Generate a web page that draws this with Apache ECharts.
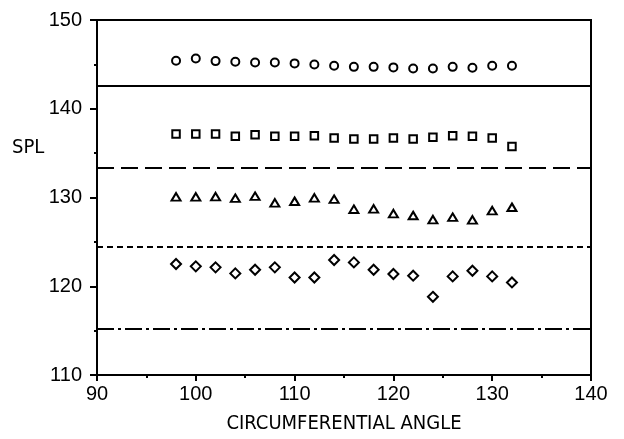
<!DOCTYPE html>
<html>
<head>
<meta charset="utf-8">
<script src="https://cdn.jsdelivr.net/npm/echarts@6/dist/echarts.min.js"></script>
<style>
html,body{margin:0;padding:0;background:#fff;}
#chart{width:624px;height:439px;}
</style>
</head>
<body>
<div id="chart"></div>
<script>
// Data
var angles = [98,100,102,104,106,108,110,112,114,116,118,120,122,124,126,128,130,132];
var circleSPL  = [145.40,145.67,145.37,145.29,145.22,145.22,145.11,144.99,144.84,144.72,144.72,144.66,144.54,144.54,144.72,144.61,144.84,144.84];
var squareSPL  = [137.15,137.15,137.15,136.89,137.08,136.89,136.89,136.97,136.70,136.59,136.59,136.70,136.59,136.78,136.97,136.89,136.70,135.76];
var triangleSPL= [130.08,130.08,130.10,129.92,130.15,129.40,129.58,129.96,129.81,128.68,128.72,128.19,127.97,127.51,127.78,127.48,128.53,128.90];
var diamondSPL = [122.51,122.24,122.13,121.45,121.86,122.13,120.99,120.99,122.96,122.69,121.86,121.38,121.19,118.81,121.11,121.75,121.11,120.43];
var refLevels  = [142.6, 133.4, 124.4, 115.2];
var xTicks = [90,100,110,120,130,140];
var yTicks = [110,120,130,140,150];

var FONT = 'Liberation Sans, Arial, sans-serif';
var NARROW = '"Liberation Sans Narrow", "DejaVu Sans Condensed", "Liberation Sans", sans-serif';
function pts(ys){ return angles.map(function(a,i){ return [a, ys[i]]; }); }

var markerStyle = {color:'#fff', borderColor:'#000', borderWidth:2, opacity:1};
var dashStyles = ['solid', [17,7], [6,4], [17,4,3,4]];

var chart = echarts.init(document.getElementById('chart'), null, {renderer:'canvas'});
chart.setOption({
  animation:false,
  backgroundColor:'#fff',
  grid:{left:97, right:33, top:20, bottom:64, show:true, borderColor:'#000', borderWidth:2, backgroundColor:'transparent'},
  graphic:[{
    type:'text', left:12, top:138,
    style:{text:'SPL', font:'20px ' + NARROW, fill:'#000'}
  }],
  xAxis:{
    type:'value', min:xTicks[0], max:xTicks[xTicks.length-1], interval:10,
    name:'CIRCUMFERENTIAL ANGLE', nameLocation:'middle', nameGap:39,
    nameTextStyle:{fontFamily:NARROW, fontSize:20, color:'#000'},
    axisLine:{show:true, onZero:false, lineStyle:{color:'#000', width:2}},
    axisTick:{show:true, inside:false, length:6, lineStyle:{color:'#000', width:2}},
    minorTick:{show:true, splitNumber:2, length:3, lineStyle:{color:'#000', width:2}},
    axisLabel:{margin:9, fontFamily:FONT, fontSize:20, color:'#000'},
    splitLine:{show:false}
  },
  yAxis:{
    type:'value', min:yTicks[0], max:yTicks[yTicks.length-1], interval:10,
    axisLine:{show:true, onZero:false, lineStyle:{color:'#000', width:2}},
    axisTick:{show:true, inside:false, length:7, lineStyle:{color:'#000', width:2}},
    minorTick:{show:true, splitNumber:2, length:3, lineStyle:{color:'#000', width:2}},
    axisLabel:{margin:15, fontFamily:FONT, fontSize:20, color:'#000'},
    splitLine:{show:false}
  },
  series:[
    {type:'scatter', data:pts(circleSPL), symbol:'circle', symbolSize:8, itemStyle:markerStyle,
     markLine:{silent:true, symbol:'none', label:{show:false},
       data: refLevels.map(function(v,i){ return {yAxis:v, lineStyle:{type:dashStyles[i], color:'#000', width:2}}; })}},
    {type:'scatter', data:pts(squareSPL), symbol:'rect', symbolSize:7.5, itemStyle:markerStyle},
    {type:'scatter', data:pts(triangleSPL), symbol:'triangle', symbolSize:[9,7.5], itemStyle:markerStyle},
    {type:'scatter', data:pts(diamondSPL), symbol:'diamond', symbolSize:[10,10], itemStyle:markerStyle}
  ]
});
</script>
</body>
</html>
